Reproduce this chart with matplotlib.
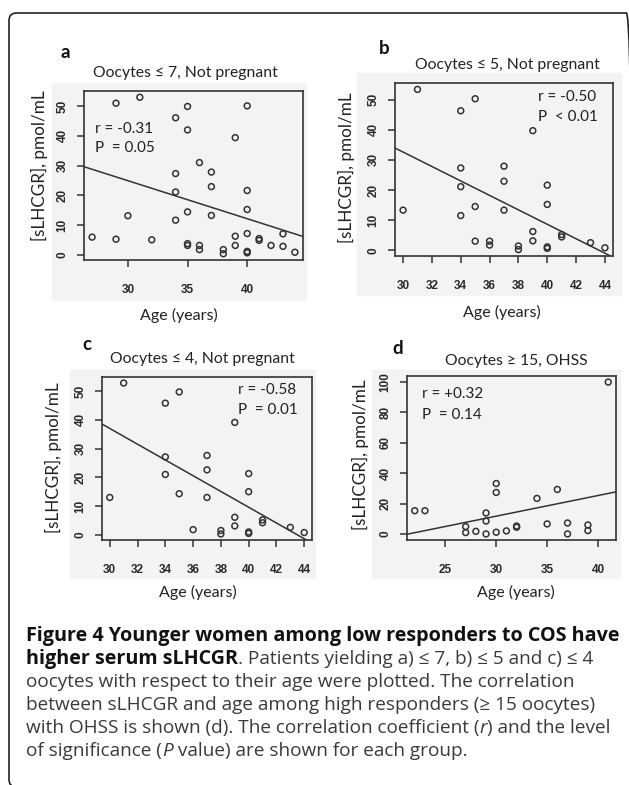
import matplotlib
matplotlib.use("Agg")
import matplotlib.pyplot as plt
import numpy as np
from matplotlib.patches import Rectangle, FancyBboxPatch

# --- data -----------------------------------------------------------------
# a) oocytes <= 7, not pregnant
age_a = [27, 29, 29, 30, 31, 32, 34, 34, 34, 34, 35, 35, 35, 35, 35, 36, 36, 36, 37,
         37, 37, 38, 38, 39, 39, 39, 40, 40, 40, 40, 40, 40, 41, 41, 42, 43, 43, 44]
slhcgr_a = [5.9, 5.2, 51, 13.1, 53, 5, 46.1, 27.3, 21.1, 11.6, 49.9, 42, 14.4, 3.7, 3.1,
            31, 3.1, 1.7, 27.8, 22.9, 13.2, 1.7, 0.3, 39.4, 6.2, 3.1, 50.1, 21.6, 15.2,
            7.1, 1.1, 0.6, 5.4, 4.8, 3.1, 7, 2.8, 0.8]
fit_a = (63.3, -1.28)          # intercept, slope of the regression line
stats_a = ["r = -0.31", "P  = 0.05"]
xticks_a = [30, 35, 40]
yticks_a = [0, 10, 20, 30, 40, 50]

# b) oocytes <= 5, not pregnant
age_b = [30, 31, 34, 34, 34, 34, 35, 35, 35, 36, 36, 37, 37, 37, 38, 38, 39, 39, 39,
         40, 40, 40, 40, 41, 41, 43, 44]
slhcgr_b = [13.3, 53.4, 46.3, 27.3, 21.1, 11.5, 50.3, 14.5, 3, 3, 1.7, 27.9, 22.9, 13.3,
            1.4, 0.2, 39.7, 6.2, 3.1, 21.6, 15.2, 1.1, 0.6, 5.2, 4.4, 2.5, 0.8]
fit_b = (104.6, -2.4)
stats_b = ["r = -0.50", "P  < 0.01"]
xticks_b = [30, 32, 34, 36, 38, 40, 42, 44]
yticks_b = [0, 10, 20, 30, 40, 50]

# c) oocytes <= 4, not pregnant
age_c = [30, 31, 34, 34, 34, 35, 35, 36, 37, 37, 37, 38, 38, 39, 39, 39, 40, 40, 40, 40,
         41, 41, 43, 44]
slhcgr_c = [13, 52.8, 45.8, 27.1, 21, 49.7, 14.3, 1.8, 27.6, 22.6, 13, 1.5, 0.3, 39.1,
            6.1, 3.1, 21.3, 15, 1, 0.5, 5.2, 4.2, 2.6, 0.8]
fit_c = (119.2, -2.74)
stats_c = ["r = -0.58", "P  = 0.01"]
xticks_c = [30, 32, 34, 36, 38, 40, 42, 44]
yticks_c = [0, 10, 20, 30, 40, 50]

# d) oocytes >= 15, OHSS
age_d = [22, 23, 27, 27, 28, 29, 29, 29, 30, 30, 30, 31, 32, 32, 34, 35, 36, 37, 37, 39,
         39, 41]
slhcgr_d = [15.3, 15.3, 4.8, 0.9, 1.7, 13.8, 8.5, 0, 33.2, 27.3, 1.1, 2, 5.2, 4.4, 23.4,
            6.6, 29.3, 7.2, 0, 5.9, 2.2, 100]
fit_d = (-29.1, 1.36)
stats_d = ["r = +0.32", "P  = 0.14"]
xticks_d = [25, 30, 35, 40]
yticks_d = [0, 20, 40, 60, 80, 100]

titles = ["Oocytes \u2264 7, Not pregnant", "Oocytes \u2264 5, Not pregnant",
          "Oocytes \u2264 4, Not pregnant", "Oocytes \u2265 15, OHSS"]
letters = ["a", "b", "c", "d"]
ylabel = "[sLHCGR], pmol/mL"
xlabel = "Age (years)"

caption = [
    [("Figure 4 Younger women among low responders to COS have", "bold", "normal")],
    [("higher serum sLHCGR", "bold", "normal"),
     (". Patients yielding a) \u2264 7, b) \u2264 5 and c) \u2264 4", "normal", "normal")],
    [("oocytes with respect to their age were plotted. The correlation", "normal", "normal")],
    [("between sLHCGR and age among high responders (\u2265 15 oocytes)", "normal", "normal")],
    [("with OHSS is shown (d). The correlation coefficient (", "normal", "normal"),
     ("r", "normal", "italic"), (") and the level", "normal", "normal")],
    [("of significance (", "normal", "normal"), ("P", "normal", "italic"),
     (" value) are shown for each group.", "normal", "normal")],
]

# --- layout -----------------------------------------------------------------
W, H = 629, 785
GRAY = "#f3f3f3"
INK = "#333333"
TXT = ["Lato", "DejaVu Sans"]
CAP = ["Open Sans", "DejaVu Sans"]

fig = plt.figure(figsize=(W / 100, H / 100), dpi=100)


def fx(x):
    return x / W


def fy(y):
    return 1 - y / H


def box_rect(x0, y0, x1, y1):
    return [fx(x0), fy(y1), (x1 - x0) / W, (y1 - y0) / H]


# outer rounded frame (right and bottom edges fall just outside the image)
frame = FancyBboxPatch((fx(9), fy(787)), (634 - 9) / W, (787 - 13) / H,
                       boxstyle="round,pad=0,rounding_size=0.012",
                       transform=fig.transFigure, fill=False, ec="#222222", lw=1.2,
                       mutation_aspect=W / H)
fig.add_artist(frame)

panels = [
    dict(age=age_a, val=slhcgr_a, fit=fit_a, xt=xticks_a, yt=yticks_a, stats=stats_a,
         box=(84, 91, 303, 260), bg=(52, 83, 306, 300), letter_xy=(65, 53),
         title_xy=(185, 73), ylab_xy=(39, 166), xlab_xy=(179, 315),
         stat=(0.05, 0.775, 0.663)),
    dict(age=age_b, val=slhcgr_b, fit=fit_b, xt=xticks_b, yt=yticks_b, stats=stats_b,
         box=(395, 83, 613, 256), bg=(357, 73, 621, 295), letter_xy=(384, 48),
         title_xy=(507, 65), ylab_xy=(346, 168), xlab_xy=(502, 312),
         stat=(0.655, 0.921, 0.805)),
    dict(age=age_c, val=slhcgr_c, fit=fit_c, xt=xticks_c, yt=yticks_c, stats=stats_c,
         box=(102, 377, 312, 540), bg=(70, 370, 315, 578), letter_xy=(87, 345),
         title_xy=(202, 359), ylab_xy=(53, 458), xlab_xy=(198, 592),
         stat=(0.65, 0.92, 0.80)),
    dict(age=age_d, val=slhcgr_d, fit=fit_d, xt=xticks_d, yt=yticks_d, stats=stats_d,
         box=(407, 376, 616, 540), bg=(372, 370, 620, 578), letter_xy=(398, 348),
         title_xy=(516, 361), ylab_xy=(360, 455), xlab_xy=(516, 592),
         stat=(0.07, 0.89, 0.762)),
]

for i, p in enumerate(panels):
    bx0, by0, bx1, by1 = p["bg"]
    fig.add_artist(Rectangle((fx(bx0), fy(by1)), (bx1 - bx0) / W, (by1 - by0) / H,
                             transform=fig.transFigure, color=GRAY, zorder=-1))
    ax = fig.add_axes(box_rect(*p["box"]))
    ax.set_facecolor(GRAY)
    ax.scatter(p["age"], p["val"], s=18, facecolors="none", edgecolors=INK,
               linewidths=1.1, zorder=3)
    ax.axline((0, p["fit"][0]), slope=p["fit"][1], color=INK, lw=1.1, zorder=2)

    # R-style 4% padding around the data range
    x = np.array(p["age"], float)
    y = np.array(p["val"], float)
    dx = 0.04 * (x.max() - x.min())
    dy = 0.04 * (y.max() - y.min())
    ax.set_xlim(x.min() - dx, x.max() + dx)
    ax.set_ylim(y.min() - dy, y.max() + dy)

    ax.set_xticks(p["xt"])
    ax.set_yticks(p["yt"])
    ax.tick_params(direction="out", length=5, width=1.1, colors=INK, labelsize=8.5)
    ax.tick_params(axis="x", pad=12)
    ax.tick_params(axis="y", pad=6, labelrotation=90)
    for lab in ax.get_xticklabels() + ax.get_yticklabels():
        lab.set_fontweight("bold")
        lab.set_family(["Liberation Sans", "DejaVu Sans"])
        lab.set_color("#2a2a2a")
    for lab in ax.get_yticklabels():
        lab.set_va("center")
    for sp in ax.spines.values():
        sp.set_color(INK)
        sp.set_linewidth(1.2)

    sx, sy1, sy2 = p["stat"]
    ax.text(sx, sy1, p["stats"][0], transform=ax.transAxes, family=TXT, fontsize=11,
            color="#222222", va="center", ha="left")
    ax.text(sx, sy2, p["stats"][1], transform=ax.transAxes, family=TXT, fontsize=11,
            color="#222222", va="center", ha="left")

    lx, ly = p["letter_xy"]
    fig.text(fx(lx), fy(ly), letters[i], family=TXT, fontsize=13.5, fontweight="bold",
             ha="center", va="center", color="#111111")
    tx, ty = p["title_xy"]
    fig.text(fx(tx), fy(ty), titles[i], family=TXT, fontsize=11.3, ha="center",
             va="center", color="#222222")
    yx, yy = p["ylab_xy"]
    fig.text(fx(yx), fy(yy), ylabel, family=TXT, fontsize=12.3, rotation=90,
             ha="center", va="center", color="#222222")
    xx, xy = p["xlab_xy"]
    fig.text(fx(xx), fy(xy), xlabel, family=TXT, fontsize=11.5, ha="center",
             va="center", color="#222222")

# caption, laid out run by run
renderer = fig.canvas.get_renderer()
for k, runs in enumerate(caption):
    cy = 636 + 23 * k
    cx = 26
    for text, weight, style in runs:
        bold = weight == "bold"
        t = fig.text(fx(cx), fy(cy), text, family=CAP, fontsize=14.2 if bold else 13.7,
                     fontweight=weight, fontstyle=style, ha="left", va="center",
                     color="#111111" if bold else "#3a3a3a")
        cx = t.get_window_extent(renderer).x1

fig.savefig("out.png", dpi=100, facecolor="white")
